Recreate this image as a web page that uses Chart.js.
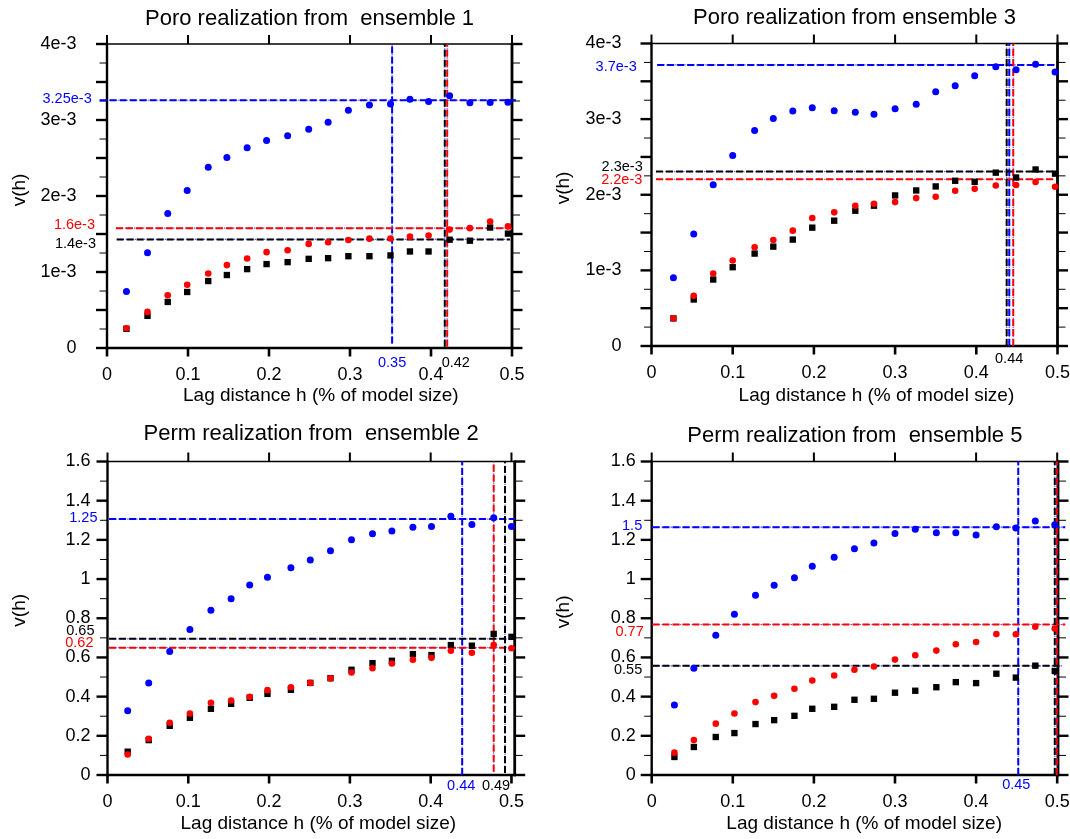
<!DOCTYPE html>
<html>
<head>
<meta charset="utf-8">
<script src="https://cdn.jsdelivr.net/npm/chart.js@4.4.1/dist/chart.umd.min.js"></script>
<style>
html,body{margin:0;padding:0;background:#fff;overflow:hidden;}
#wrap{position:relative;width:1070px;height:839px;overflow:hidden;background:#fff;}
#wrap canvas{position:absolute;}
</style>
</head>
<body>
<div id="wrap">
  <canvas id="c1" width="535" height="420" style="left:0;top:0"></canvas>
  <canvas id="c2" width="550" height="420" style="left:535px;top:0"></canvas>
  <canvas id="c3" width="535" height="419" style="left:0;top:420px"></canvas>
  <canvas id="c4" width="550" height="419" style="left:535px;top:420px"></canvas>
</div>
<script>
// ---------------- DATA ----------------
const seriesNames = ['blue', 'red', 'black'];

// Poro realization from ensemble 1
const lagsE1  = [0.024,0.050,0.075,0.099,0.125,0.148,0.173,0.197,0.223,0.249,0.273,0.298,0.324,0.350,0.374,0.397,0.423,0.448,0.473,0.495];
const blueE1  = [0.742e-3,1.252e-3,1.771e-3,2.072e-3,2.377e-3,2.508e-3,2.635e-3,2.731e-3,2.792e-3,2.879e-3,2.971e-3,3.128e-3,3.197e-3,3.210e-3,3.274e-3,3.242e-3,3.318e-3,3.228e-3,3.230e-3,3.232e-3];
const redE1   = [0.260e-3,0.475e-3,0.694e-3,0.833e-3,0.981e-3,1.091e-3,1.178e-3,1.261e-3,1.287e-3,1.370e-3,1.392e-3,1.422e-3,1.439e-3,1.440e-3,1.465e-3,1.480e-3,1.558e-3,1.577e-3,1.665e-3,1.600e-3];
const blackE1 = [0.253e-3,0.423e-3,0.606e-3,0.737e-3,0.881e-3,0.960e-3,1.038e-3,1.104e-3,1.130e-3,1.173e-3,1.182e-3,1.208e-3,1.208e-3,1.218e-3,1.270e-3,1.270e-3,1.425e-3,1.412e-3,1.585e-3,1.505e-3];
const sillsE1  = [3.260e-3, 1.577e-3, 1.428e-3];   // blue, red, black
const rangesE1 = [0.352, 0.420, 0.417];
const sillTextE1  = ['3.25e-3', '1.6e-3', '1.4e-3'];
const rangeTextE1 = ['0.35', '', '0.42'];

// Poro realization from ensemble 3
const lagsE3  = [0.027,0.052,0.076,0.100,0.127,0.150,0.174,0.198,0.225,0.251,0.274,0.300,0.326,0.350,0.374,0.398,0.424,0.449,0.473,0.497];
const blueE3  = [0.901e-3,1.481e-3,2.132e-3,2.519e-3,2.848e-3,3.007e-3,3.108e-3,3.152e-3,3.112e-3,3.090e-3,3.064e-3,3.138e-3,3.196e-3,3.363e-3,3.440e-3,3.575e-3,3.692e-3,3.652e-3,3.727e-3,3.624e-3];
const redE3   = [0.365e-3,0.664e-3,0.958e-3,1.130e-3,1.305e-3,1.402e-3,1.525e-3,1.692e-3,1.767e-3,1.855e-3,1.881e-3,1.903e-3,1.956e-3,1.974e-3,2.053e-3,2.078e-3,2.122e-3,2.128e-3,2.168e-3,2.106e-3];
const blackE3 = [0.365e-3,0.615e-3,0.879e-3,1.042e-3,1.222e-3,1.314e-3,1.407e-3,1.565e-3,1.657e-3,1.789e-3,1.855e-3,1.991e-3,2.057e-3,2.110e-3,2.185e-3,2.171e-3,2.292e-3,2.228e-3,2.334e-3,2.279e-3];
const sillsE3  = [3.717e-3, 2.205e-3, 2.306e-3];
const rangesE3 = [0.4406, 0.4455, 0.4374];
const sillTextE3  = ['3.7e-3', '2.2e-3', '2.3e-3'];
const rangeTextE3 = ['', '', '0.44'];

// Perm realization from ensemble 2
const lagsE2  = [0.025,0.051,0.077,0.102,0.128,0.153,0.176,0.198,0.227,0.251,0.276,0.302,0.328,0.352,0.378,0.401,0.425,0.451,0.478,0.500];
const blueE2  = [0.328,0.470,0.630,0.742,0.841,0.900,0.970,1.009,1.058,1.097,1.145,1.201,1.231,1.245,1.264,1.268,1.320,1.279,1.313,1.268];
const redE2   = [0.105,0.185,0.267,0.314,0.369,0.380,0.399,0.433,0.448,0.470,0.493,0.523,0.545,0.569,0.588,0.598,0.634,0.624,0.663,0.647];
const blackE2 = [0.119,0.178,0.251,0.292,0.338,0.363,0.394,0.414,0.435,0.470,0.494,0.537,0.571,0.583,0.617,0.612,0.663,0.660,0.720,0.705];
const sillsE2  = [1.306, 0.650, 0.695];
const rangesE2 = [0.439, 0.478, 0.492];
const sillTextE2  = ['1.25', '0.62', '0.65'];
const rangeTextE2 = ['0.44', '', '0.49'];

// Perm realization from ensemble 5
const lagsE5  = [0.028,0.052,0.079,0.102,0.128,0.151,0.176,0.198,0.225,0.250,0.274,0.300,0.325,0.351,0.375,0.400,0.425,0.449,0.473,0.497];
const blueE5  = [0.357,0.545,0.713,0.820,0.917,0.968,1.007,1.065,1.111,1.155,1.184,1.233,1.254,1.237,1.237,1.225,1.267,1.260,1.296,1.277];
const redE5   = [0.114,0.178,0.262,0.314,0.372,0.404,0.440,0.482,0.508,0.537,0.554,0.589,0.611,0.635,0.667,0.679,0.720,0.718,0.757,0.748];
const blackE5 = [0.092,0.143,0.194,0.214,0.260,0.280,0.302,0.338,0.348,0.384,0.389,0.420,0.430,0.448,0.474,0.469,0.517,0.497,0.558,0.531];
const sillsE5  = [1.265, 0.768, 0.557];
const rangesE5 = [0.452, 0.4995, 0.497];
const sillTextE5  = ['1.5', '0.77', '0.55'];
const rangeTextE5 = ['0.45', '', ''];

const xTickLabels = ['0', '0.1', '0.2', '0.3', '0.4', '0.5'];
const xAxisTitle = 'Lag distance h (% of model size)';
const yAxisTitle = 'v(h)';

// ---------------- STYLE / LAYOUT ----------------
const FONT = '"Liberation Sans", Arial, Helvetica, sans-serif';
Chart.defaults.font.family = FONT;
const COLORS = ['#0000ff', '#ff0000', '#000000'];
const UNDER = '#5a5aff';

const fmtPoro = v => (Math.abs(v) < 1e-9 ? '0' : Math.round(v * 1000) + 'e-3');
const fmtPerm = v => String(+v.toFixed(1));

const panels = [
  { id: 'c1', title: 'Poro realization from  ensemble 1', lags: lagsE1, series: [blueE1, redE1, blackE1],
    sills: sillsE1, ranges: rangesE1, sillText: sillTextE1, rangeText: rangeTextE1,
    lay: { L: 107, R: 512, T: 44, B: 348, xMax: 0.5, yMax: 4e-3, yStep: 1e-3, yMinor: 0.25e-3, fmt: fmtPoro, yPad: 30.5,
      titleY: 18.8, xTitleAt: 0.264, xTitleY: 396, yTitleX: 20, yTitleY: 190,
      hFrom: [-0.009, 0.011, 0.012], hTo: [0.505, 0.5, 0.4975], vBottom: [0.06e-3, 0.017e-3, 0.017e-3],
      sillDx: [15.3, 12, 11], sillDy: [-1, -3, 4.4], rangeDx: [0, 0, 11], rangeDy: 15 } },
  { id: 'c2', title: 'Poro realization from ensemble 3', lags: lagsE3, series: [blueE3, redE3, blackE3],
    sills: sillsE3, ranges: rangesE3, sillText: sillTextE3, rangeText: rangeTextE3,
    lay: { L: 116.5, R: 522.5, T: 43.5, B: 346, xMax: 0.5, yMax: 4e-3, yStep: 1e-3, yMinor: 0.25e-3, fmt: fmtPoro, yPad: 30,
      titleY: 17.6, xTitleAt: 0.277, xTitleY: 395.5, yTitleX: 29, yTitleY: 188,
      hFrom: [0.007, 0.0055, 0.0055], hTo: [0.497, 0.495, 0.499], vBottom: [0, 0, 0],
      sillDx: [14.8, 9.2, 8.8], sillDy: [1.7, 0.7, -5], rangeDx: [0, 0, 2.5], rangeDy: 13 } },
  { id: 'c3', title: 'Perm realization from  ensemble 2', lags: lagsE2, series: [blueE2, redE2, blackE2],
    sills: sillsE2, ranges: rangesE2, sillText: sillTextE2, rangeText: rangeTextE2,
    lay: { L: 107.5, R: 514.7, T: 41.5, B: 355, xMax: 0.504, yMax: 1.6, yStep: 0.2, yMinor: 0.1, fmt: fmtPerm, yPad: 17,
      titleY: 13.9, xTitleAt: 0.261, xTitleY: 404, yTitleX: 20, yTitleY: 190.3,
      hFrom: [0.002, 0.002, 0.002], hTo: [0.504, 0.504, 0.5], vBottom: [0, 0.017, 0.01],
      sillDx: [10, 14, 13], sillDy: [-1.6, -4.4, -8], rangeDx: [-1, 0, -9], rangeDy: 11 } },
  { id: 'c4', title: 'Perm realization from  ensemble 5', lags: lagsE5, series: [blueE5, redE5, blackE5],
    sills: sillsE5, ranges: rangesE5, sillText: sillTextE5, rangeText: rangeTextE5,
    lay: { L: 116.7, R: 523, T: 41.5, B: 355, xMax: 0.501, yMax: 1.6, yStep: 0.2, yMinor: 0.1, fmt: fmtPerm, yPad: 16,
      titleY: 15.6, xTitleAt: 0.262, xTitleY: 404, yTitleX: 28.5, yTitleY: 191.9,
      hFrom: [0.001, 0.001, 0.001], hTo: [0.51, 0.51, 0.506], vBottom: [0, 0, 0],
      sillDx: [9.5, 8, 9.5], sillDy: [-1, 7, 3.7], rangeDx: [-2, 0, 0], rangeDy: 10 } }
];

function seg(ctx, x1, y1, x2, y2) { ctx.beginPath(); ctx.moveTo(x1, y1); ctx.lineTo(x2, y2); ctx.stroke(); }

const decor = {
  id: 'decor',
  beforeDatasetsDraw(chart, args, o) {
    const { ctx, chartArea: a, scales: { x, y } } = chart;
    const lay = o.lay;
    ctx.save();
    ctx.strokeStyle = '#000';
    ctx.lineCap = 'butt';
    const n = Math.round((y.max - y.min) / lay.yMinor);
    for (let i = 0; i <= n; i++) {
      const py = y.getPixelForValue(y.min + i * lay.yMinor);
      const major = i % 2 === 0;
      ctx.lineWidth = major ? 2.4 : 1;
      seg(ctx, a.left - (major ? 11 : 7.5), py, a.left, py);
      seg(ctx, a.right, py, a.right + (major ? 10.5 : 8), py);
    }
    xTickLabels.forEach(t => {
      const px = x.getPixelForValue(parseFloat(t));
      ctx.lineWidth = 2.6; seg(ctx, px, a.bottom, px, a.bottom + 8.5);
      ctx.lineWidth = 2; seg(ctx, px, a.top - 9, px, a.top);
    });
    ctx.lineWidth = 2.4;
    seg(ctx, a.left, a.top - 1, a.left, a.bottom + 1.2);
    seg(ctx, a.left - 1, a.bottom, a.right + 1, a.bottom);
    ctx.lineWidth = 2.8;
    seg(ctx, a.right, a.top - 1, a.right, a.bottom + 1.2);
    ctx.lineWidth = 1.4;
    seg(ctx, a.left, a.top, a.right, a.top);
    ctx.restore();
  },
  afterDraw(chart, args, o) {
    const { ctx, chartArea: a, scales: { x, y } } = chart;
    const p = o.panel, lay = p.lay;
    ctx.save();
    ctx.fillStyle = '#000';
    ctx.textBaseline = 'middle';
    ctx.textAlign = 'center';
    ctx.font = '22px ' + FONT;
    ctx.fillText(p.title, (a.left + a.right) / 2, lay.titleY);
    ctx.font = '19px ' + FONT;
    ctx.fillText(xAxisTitle, x.getPixelForValue(lay.xTitleAt), lay.xTitleY);
    ctx.save();
    ctx.translate(lay.yTitleX, lay.yTitleY);
    ctx.rotate(-Math.PI / 2);
    ctx.fillText(yAxisTitle, 0, 0);
    ctx.restore();
    ctx.font = '14.5px ' + FONT;
    p.sillText.forEach((t, i) => {
      if (!t) return;
      ctx.fillStyle = COLORS[i];
      ctx.textAlign = 'right';
      ctx.fillText(t, a.left - lay.sillDx[i], y.getPixelForValue(p.sills[i]) + lay.sillDy[i]);
    });
    p.rangeText.forEach((t, i) => {
      if (!t) return;
      ctx.fillStyle = COLORS[i];
      ctx.textAlign = 'center';
      ctx.fillText(t, x.getPixelForValue(p.ranges[i]) + lay.rangeDx[i], a.bottom + lay.rangeDy);
    });
    ctx.restore();
  }
};

function lineSet(pts, color, dash, width, order) {
  return { data: pts, showLine: true, borderColor: color, backgroundColor: color, borderWidth: width,
    borderDash: dash, pointRadius: 0, pointHoverRadius: 0, order, clip: false, tension: 0 };
}

panels.forEach(p => {
  const lay = p.lay;
  const cv = document.getElementById(p.id);
  const datasets = [];
  p.series.forEach((vals, i) => {
    datasets.push({
      label: seriesNames[i],
      data: p.lags.map((lx, k) => ({ x: lx, y: vals[k] })),
      showLine: false,
      pointStyle: i === 2 ? 'rect' : 'circle',
      pointRadius: i === 2 ? 4.5 : (i === 0 ? 3.5 : 3.3),
      pointBorderWidth: 0, borderWidth: 0,
      backgroundColor: COLORS[i], borderColor: COLORS[i],
      order: i + 1, clip: false
    });
  });
  p.sills.forEach((s, i) => {
    const pts = [{ x: lay.hFrom[i], y: s }, { x: lay.hTo[i], y: s }];
    datasets.push(lineSet(pts, UNDER, [1.5, 1.5], 1.2, 12));
    datasets.push(lineSet(pts, COLORS[i], [7, 3], 2, 10 - i));
  });
  p.ranges.forEach((r, i) => {
    const pts = [{ x: r, y: lay.vBottom[i] }, { x: r, y: lay.yMax }];
    datasets.push(lineSet(pts, UNDER, [1.5, 1.5], 1.2, 12));
    datasets.push(lineSet(pts, COLORS[i], [7, 3], 2, 10 - i));
  });

  new Chart(cv, {
    type: 'scatter',
    data: { datasets },
    plugins: [decor],
    options: {
      responsive: false, animation: false, devicePixelRatio: 1, events: [],
      layout: { padding: { left: 0, top: lay.T, right: cv.width - lay.R, bottom: 0 } },
      plugins: { legend: { display: false }, tooltip: { enabled: false }, title: { display: false },
        decor: { lay, panel: p } },
      scales: {
        x: {
          type: 'linear', position: 'bottom', min: 0, max: lay.xMax,
          grid: { display: false, drawTicks: false, tickLength: 0 }, border: { display: false },
          ticks: { stepSize: 0.1, includeBounds: false, autoSkip: false, maxRotation: 0, padding: 16,
            color: '#000', font: { size: 18 }, callback: v => String(+v.toFixed(1)) },
          afterFit: s => { s.height = cv.height - lay.B; s.paddingLeft = 0; s.paddingRight = 0; }
        },
        y: {
          type: 'linear', position: 'left', min: 0, max: lay.yMax,
          grid: { display: false, drawTicks: false, tickLength: 0 }, border: { display: false },
          ticks: { stepSize: lay.yStep, autoSkip: false, padding: lay.yPad, color: '#000',
            font: { size: 18 }, callback: v => lay.fmt(v) },
          afterFit: s => { s.width = lay.L; s.paddingTop = 0; s.paddingBottom = 0; }
        }
      }
    }
  });
});
</script>
</body>
</html>
